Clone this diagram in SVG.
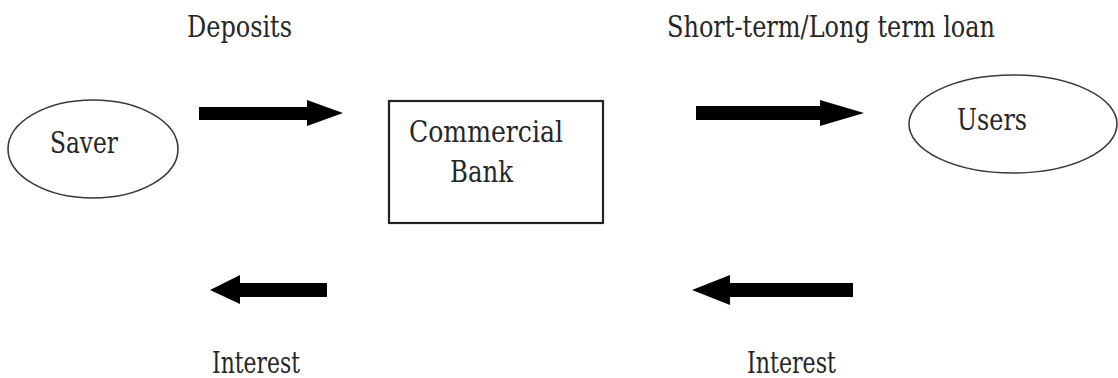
<svg xmlns="http://www.w3.org/2000/svg" width="1118" height="378" viewBox="0 0 1118 378">
  <style>
    text { font-family: 'DejaVu Serif', 'Liberation Serif', serif; font-size: 29px; fill: #262626; }
    .node { fill: #ffffff; stroke: #3a3a3a; stroke-width: 1.6; }
    .box { fill: #ffffff; stroke: #222222; stroke-width: 2.2; }
    .flow { fill: #000000; }
  </style>
  <rect width="1118" height="378" fill="#ffffff"/>

  <!-- Flow labels -->
  <text x="187" y="37" textLength="105" lengthAdjust="spacingAndGlyphs">Deposits</text>
  <text x="667" y="37" textLength="328" lengthAdjust="spacingAndGlyphs">Short-term/Long term loan</text>
  <text x="212" y="373" textLength="88" lengthAdjust="spacingAndGlyphs">Interest</text>
  <text x="747" y="373" textLength="89" lengthAdjust="spacingAndGlyphs">Interest</text>

  <!-- Nodes -->
  <g id="saver">
    <ellipse class="node" cx="93" cy="149" rx="85" ry="49"/>
    <text x="50" y="153" textLength="68" lengthAdjust="spacingAndGlyphs">Saver</text>
  </g>
  <g id="commercial-bank">
    <rect class="box" x="389" y="101" width="214" height="122"/>
    <text x="409" y="142" textLength="154" lengthAdjust="spacingAndGlyphs">Commercial</text>
    <text x="450" y="182" textLength="63" lengthAdjust="spacingAndGlyphs">Bank</text>
  </g>
  <g id="users">
    <ellipse class="node" cx="1013" cy="124" rx="104" ry="49"/>
    <text x="957" y="130" textLength="70" lengthAdjust="spacingAndGlyphs">Users</text>
  </g>

  <!-- Block arrows between nodes -->
  <g id="connectors">
    <polygon class="flow" points="199,107 307,107 307,100 343,113 307,126 307,120 199,120"/>
    <polygon class="flow" points="696,106 820,106 820,100 864,113 820,126 820,120 696,120"/>
    <polygon class="flow" points="327,283 240,283 240,275 210,290 240,304 240,297 327,297"/>
    <polygon class="flow" points="853,283 730,283 730,275 692,290 730,305 730,297 853,297"/>
  </g>
</svg>
